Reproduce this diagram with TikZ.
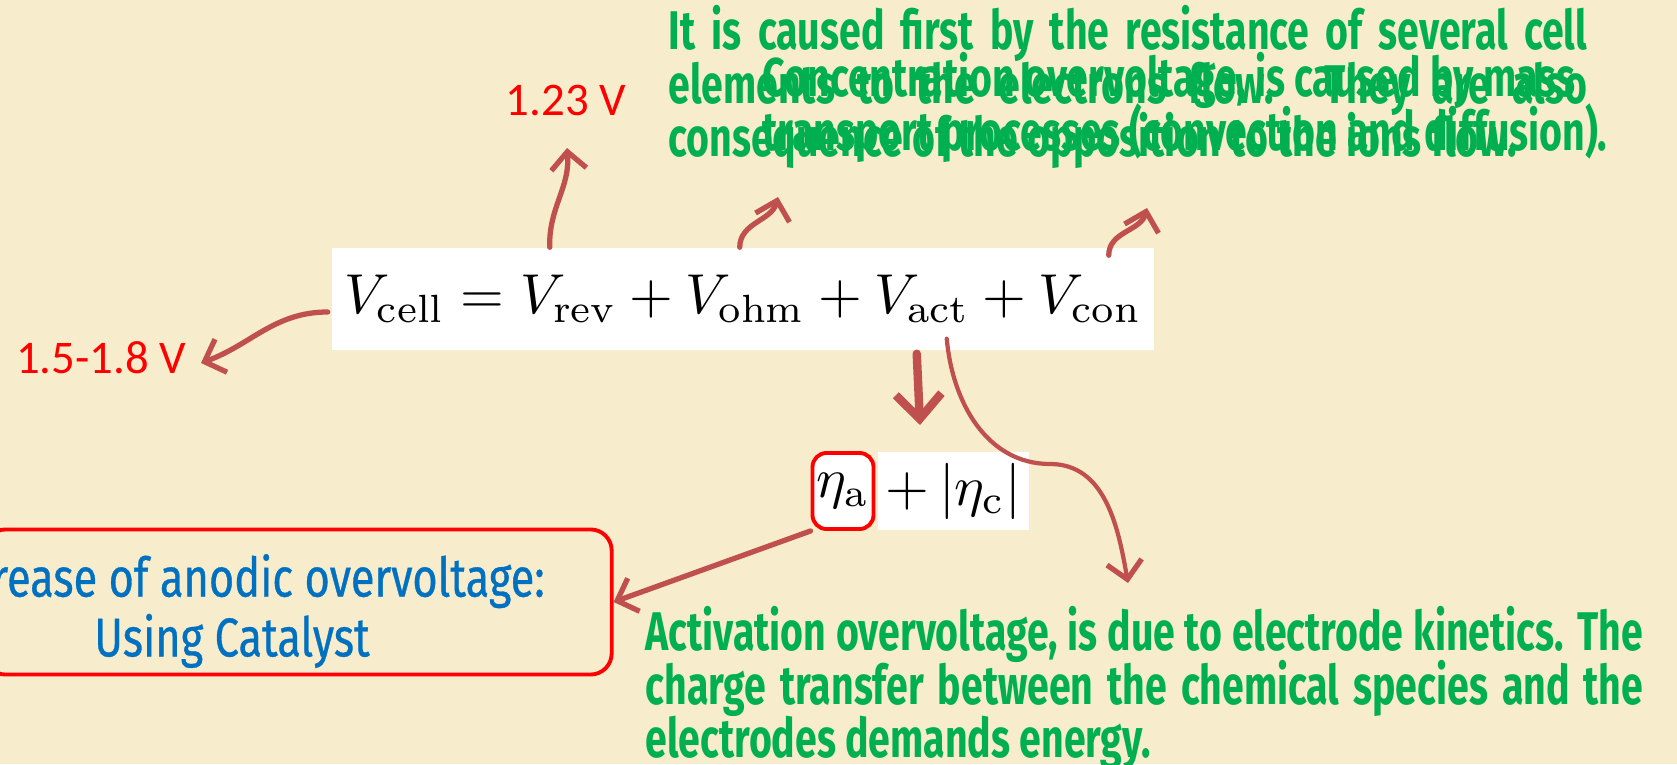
\documentclass[tikz,border=0pt]{standalone}
\usepackage{fontspec}
\usepackage{graphicx}
\usetikzlibrary{arrows.meta,positioning,calc}
\newfontfamily\condfont[FakeStretch=0.72]{Fira Sans}
\newfontfamily\bluefont[FakeStretch=0.795,FakeBold=0.6]{Fira Sans}
\newfontfamily\calfont{Carlito}
\definecolor{parch}{RGB}{247,236,204}
\definecolor{arrred}{RGB}{192,80,77}
\definecolor{txtgreen}{RGB}{0,176,80}
\definecolor{txtblue}{RGB}{0,112,192}
\newcommand{\greenfont}{\condfont\bfseries\fontsize{15.5}{15.2}\selectfont\setlength{\lineskiplimit}{-20pt}}

\begin{document}
\begin{tikzpicture}[x=0.01cm,y=-0.01cm,
  arr/.style={draw=arrred, line width=1.5pt, line cap=round,
    -{Straight Barb[length=5pt,width=10pt,line width=1.5pt]}},
  gtext/.style={text=txtgreen, inner sep=0pt, font=\greenfont},
  rtext/.style={text=red, inner sep=1pt, font=\calfont\fontsize{13.3}{15}\selectfont},
  btext/.style={text=txtblue, inner sep=0pt, font=\bluefont\fontsize{15.5}{17}\selectfont}]
  \clip (0,0) rectangle (1677,764);
  \fill[parch] (0,0) rectangle (1677,764);

  % equation and its parts
  \node[fill=white, minimum width=8.17cm, minimum height=1.02cm] (eq) at (743,299)
    {\scalebox{1.6}{$V_{\rm cell} = V_{\rm rev} + V_{\rm ohm} + V_{\rm act} + V_{\rm con}$}};
  \node[fill=white, draw=red, line width=1.1pt, rounded corners=4pt,
    minimum width=0.61cm, minimum height=0.76cm, inner sep=0pt] (etaa) at (843,491)
    {\scalebox{1.6}{$\eta_{\rm a}$}};
  \node[fill=white, minimum width=1.51cm, minimum height=0.78cm, inner sep=0pt,
    right=0.5pt of etaa] (etac) {\scalebox{1.6}{$+\,|\eta_{\rm c}|$}};

  % labels
  \node[rtext] (v123) at (566,101) {1.23 V};
  \node[rtext] (vcell) at (101,358) {1.5-1.8 V};
  \node[gtext, anchor=north west, text width=9.18cm, align=justify] (ohm) at (668,5)
    {It is caused first by the resistance of several cell\linebreak
     elements to the electrons flow. They are also\linebreak
     consequence of the opposition to the ions flow.};
  \node[gtext, anchor=north west, align=left] (con) at (762,52)
    {Concentration overvoltage, is caused by mass\\
     transport processes (convection and diffusion).};
  \node[gtext, anchor=north west, text width=9.97cm, align=justify] (act) at (645,606)
    {Activation overvoltage, is due to electrode kinetics. The\linebreak
     charge transfer between the chemical species and the\linebreak
     electrodes demands energy.};

  % catalyst box
  \node[draw=red, line width=1.1pt, rounded corners=6pt,
    minimum width=6.27cm, minimum height=1.45cm] (cat) at (298,602) {};
  \node[btext, align=center] (cattxt) at (232,611)
    {Decrease of anodic overvoltage:\\Using Catalyst};

  % arrow ends
  \coordinate (tlow) at (201,363);
  \coordinate (t123) at (567,148);
  \coordinate (tohm) at (778,197);
  \coordinate (tcon) at (1147,208);
  \coordinate (tdown) at (920,425);
  \coordinate (tact) at (1128,583);

  \draw[arr] ($(eq.west)+(-4,13)$) to[out=180,in=20] (tlow);
  \draw[arr] ($(eq.north west)+(218,0)$) to[out=92,in=-85] (t123);
  \draw[arr] ($(eq.north west)+(408,0)$) to[out=90,in=-105] (tohm);
  \draw[arr] ($(eq.north west)+(777,8)$) to[out=90,in=-105] (tcon);
  \draw[arr, line width=2.4pt, -{Straight Barb[length=7pt,width=13pt,line width=2.4pt]}]
    ($(eq.south west)+(585,3)$) -- (tdown);
  \draw[arr, line width=1.2pt] ($(eq.south west)+(615,-12)$) to[out=-85,in=180] (1050,464)
    to[out=0,in=100] (tact);
  \draw[arr] (etaa.south west) -- (cat.east);
\end{tikzpicture}
\end{document}
